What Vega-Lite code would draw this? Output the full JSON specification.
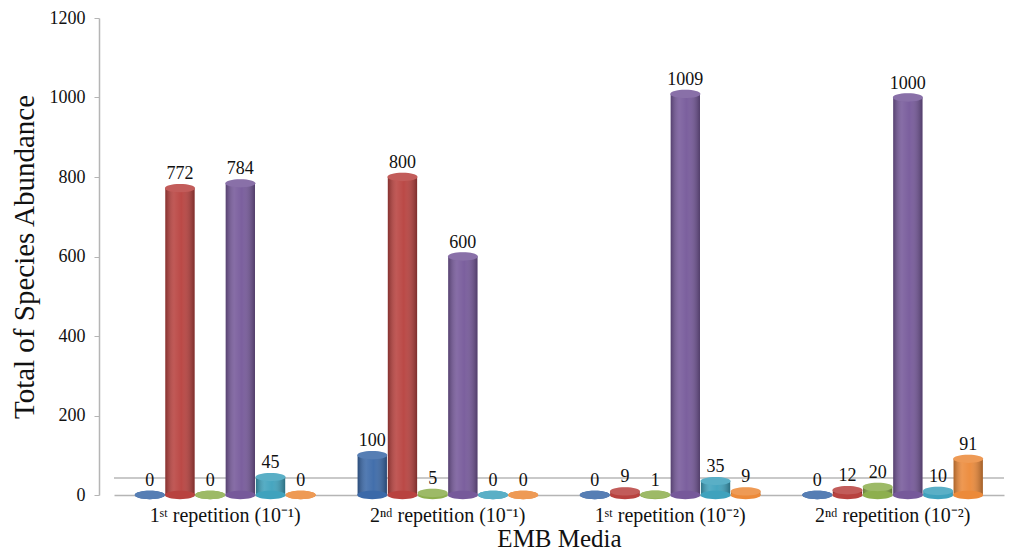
{
  "$schema": "https://vega.github.io/schema/vega-lite/v6.json",
  "autosize": {"type": "none"},
  "width": 890,
  "height": 477,
  "padding": {"left": 114, "top": 18, "right": 15, "bottom": 56},
  "background": "white",
  "config": {
    "view": {"stroke": null},
    "font": "Liberation Serif",
    "axis": {"labelFont": "Liberation Serif", "titleFont": "Liberation Serif", "labelColor": "#111", "titleColor": "#111", "titleFontWeight": "normal"}
  },
  "data": {
    "values": [
      {"group": "1ˢᵗ repetition (10⁻¹)", "series": "A", "value": 0},
      {"group": "1ˢᵗ repetition (10⁻¹)", "series": "B", "value": 772},
      {"group": "1ˢᵗ repetition (10⁻¹)", "series": "C", "value": 0},
      {"group": "1ˢᵗ repetition (10⁻¹)", "series": "D", "value": 784},
      {"group": "1ˢᵗ repetition (10⁻¹)", "series": "E", "value": 45},
      {"group": "1ˢᵗ repetition (10⁻¹)", "series": "F", "value": 0},
      {"group": "2ⁿᵈ repetition (10⁻¹)", "series": "A", "value": 100},
      {"group": "2ⁿᵈ repetition (10⁻¹)", "series": "B", "value": 800},
      {"group": "2ⁿᵈ repetition (10⁻¹)", "series": "C", "value": 5},
      {"group": "2ⁿᵈ repetition (10⁻¹)", "series": "D", "value": 600},
      {"group": "2ⁿᵈ repetition (10⁻¹)", "series": "E", "value": 0},
      {"group": "2ⁿᵈ repetition (10⁻¹)", "series": "F", "value": 0},
      {"group": "1ˢᵗ repetition (10⁻²)", "series": "A", "value": 0},
      {"group": "1ˢᵗ repetition (10⁻²)", "series": "B", "value": 9},
      {"group": "1ˢᵗ repetition (10⁻²)", "series": "C", "value": 1},
      {"group": "1ˢᵗ repetition (10⁻²)", "series": "D", "value": 1009},
      {"group": "1ˢᵗ repetition (10⁻²)", "series": "E", "value": 35},
      {"group": "1ˢᵗ repetition (10⁻²)", "series": "F", "value": 9},
      {"group": "2ⁿᵈ repetition (10⁻²)", "series": "A", "value": 0},
      {"group": "2ⁿᵈ repetition (10⁻²)", "series": "B", "value": 12},
      {"group": "2ⁿᵈ repetition (10⁻²)", "series": "C", "value": 20},
      {"group": "2ⁿᵈ repetition (10⁻²)", "series": "D", "value": 1000},
      {"group": "2ⁿᵈ repetition (10⁻²)", "series": "E", "value": 10},
      {"group": "2ⁿᵈ repetition (10⁻²)", "series": "F", "value": 91}
    ]
  },
  "encoding": {
    "x": {
      "field": "group", "type": "nominal", "sort": null,
      "scale": {"paddingInner": 0.19, "paddingOuter": 0.095},
      "axis": {
        "title": "EMB Media", "titleFontSize": 25, "titlePadding": 1, "titleFont": "Liberation Serif",
        "labelFont": "Liberation Serif", "labelFontSize": 20, "labelAngle": 0, "labelPadding": 10,
        "ticks": false, "domainColor": "#b5b5b5", "domainWidth": 1.5
      }
    },
    "xOffset": {"field": "series", "type": "nominal", "scale": {"paddingInner": 0.03}}
  },
  "layer": [
    {
      "mark": {"type": "rule", "color": "#c8c8c8", "strokeWidth": 1.5},
      "encoding": {"y": {"datum": 43, "type": "quantitative"}, "x": null, "xOffset": null}
    },
    {
      "mark": {"type": "bar", "clip": false},
      "encoding": {
        "y": {
          "field": "value", "type": "quantitative",
          "scale": {"domain": [0, 1200], "nice": false},
          "axis": {
            "title": "Total of Species Abundance", "titleFontSize": 29, "titlePadding": 10, "titleFont": "Liberation Serif",
            "values": [0, 200, 400, 600, 800, 1000, 1200], "format": "d",
            "labelFont": "Liberation Serif", "labelFontSize": 18, "labelPadding": 9, "tickSize": 5, "offset": 15,
            "grid": false, "domainColor": "#b5b5b5", "tickColor": "#b5b5b5", "domainWidth": 1.5
          }
        },
        "color": {
          "field": "series", "type": "nominal", "legend": null,
          "scale": {"range": ["#3b69a8", "#b8423f", "#8daf4e", "#76599a", "#3fa2bd", "#ec8a3a"]}
        }
      }
    },
    {
      "mark": {
        "type": "bar",
        "fill": {
          "gradient": "linear", "x1": 0, "x2": 1, "y1": 0, "y2": 0,
          "stops": [
            {"offset": 0, "color": "rgba(0,0,0,0.28)"},
            {"offset": 0.3, "color": "rgba(255,255,255,0.12)"},
            {"offset": 0.55, "color": "rgba(255,255,255,0.04)"},
            {"offset": 1, "color": "rgba(0,0,0,0.32)"}
          ]
        }
      },
      "encoding": {"y": {"field": "value", "type": "quantitative"}}
    },
    {
      "mark": {"type": "point", "filled": true, "opacity": 1, "size": 900,
        "shape": "M-1,0 A1,0.28,0,1,0,1,0 A1,0.28,0,1,0,-1,0 Z"},
      "encoding": {
        "y": {"datum": 0, "type": "quantitative"},
        "color": {"field": "series", "type": "nominal", "legend": null}
      }
    },
    {
      "mark": {"type": "point", "filled": true, "opacity": 1, "size": 900,
        "shape": "M-1,0 A1,0.28,0,1,0,1,0 A1,0.28,0,1,0,-1,0 Z"},
      "encoding": {
        "y": {"field": "value", "type": "quantitative"},
        "color": {"field": "series", "type": "nominal", "legend": null}
      }
    },
    {
      "mark": {"type": "point", "filled": true, "size": 900, "color": "white", "opacity": 0.14,
        "shape": "M-1,0 A1,0.28,0,1,0,1,0 A1,0.28,0,1,0,-1,0 Z"},
      "encoding": {"y": {"field": "value", "type": "quantitative"}}
    },
    {
      "mark": {"type": "text", "baseline": "bottom", "dy": -5, "fontSize": 18, "font": "Liberation Serif", "color": "#111"},
      "encoding": {
        "y": {"field": "value", "type": "quantitative"},
        "text": {"field": "value", "type": "quantitative"}
      }
    }
  ]
}
